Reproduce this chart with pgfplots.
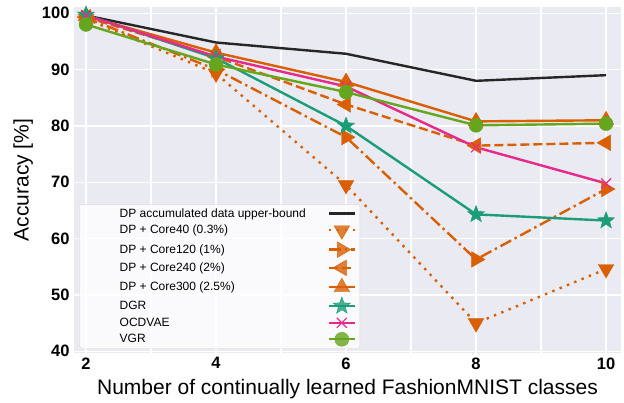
\documentclass[border=0pt]{standalone}
\usepackage{pgfplots}
\pgfplotsset{compat=1.18}
\usepackage{fontspec}
\setmainfont{Liberation Sans}
\definecolor{bgc}{HTML}{EAEAF2}
\definecolor{dteal}{HTML}{1B9E77}
\definecolor{dorange}{HTML}{D95F02}
\definecolor{dpink}{HTML}{E7298A}
\definecolor{dgreen}{HTML}{66A61E}
\definecolor{dblack}{HTML}{262626}
\pgfdeclareplotmark{fstar}{%
  \pgfpathmoveto{\pgfqpointpolar{90}{\pgfplotmarksize}}%
  \pgfpathlineto{\pgfqpointpolar{126}{0.42\pgfplotmarksize}}%
  \pgfpathlineto{\pgfqpointpolar{162}{\pgfplotmarksize}}%
  \pgfpathlineto{\pgfqpointpolar{198}{0.42\pgfplotmarksize}}%
  \pgfpathlineto{\pgfqpointpolar{234}{\pgfplotmarksize}}%
  \pgfpathlineto{\pgfqpointpolar{270}{0.42\pgfplotmarksize}}%
  \pgfpathlineto{\pgfqpointpolar{306}{\pgfplotmarksize}}%
  \pgfpathlineto{\pgfqpointpolar{342}{0.42\pgfplotmarksize}}%
  \pgfpathlineto{\pgfqpointpolar{18}{\pgfplotmarksize}}%
  \pgfpathlineto{\pgfqpointpolar{54}{0.42\pgfplotmarksize}}%
  \pgfpathclose
  \pgfusepathqfillstroke}
\begin{document}
\begin{tikzpicture}
\begin{axis}[
  name=ax,
  scale only axis,
  width=547pt, height=346pt,
  xmin=1.815, xmax=10.23,
  ymin=39.7, ymax=101.1,
  axis background/.style={fill=bgc},
  axis line style={draw=none},
  xtick={2,4,6,8,10},
  minor xtick={3,5,7,9},
  ytick={40,50,...,100},
  grid=both,
  major grid style={white, line width=1.2pt},
  minor grid style={white, line width=1.2pt},
  tick style={draw=none},
  /pgf/number format/assume math mode=true,
  ticklabel style={font=\bfseries\fontsize{16.5}{18}\selectfont},
  xticklabel style={yshift=-1pt},
  yticklabel style={xshift=-1pt},
  xlabel={Number of continually learned FashionMNIST classes},
  ylabel={Accuracy [\%]},
  label style={font=\fontsize{21}{22}\selectfont},
  xlabel style={yshift=-3pt},
  ylabel style={yshift=2pt},
  legend plot pos=right,
  legend cell align=left,
  legend image code/.code={\draw[mark repeat=2,mark phase=2] plot coordinates {(0cm,0cm) (0.45cm,0cm) (0.9cm,0cm)};},
  legend style={at={(axis cs:1.9,40.5)}, anchor=south west,
    fill=white, fill opacity=0.8, text opacity=1, draw=black!15,
    rounded corners=2pt,
    font=\fontsize{12}{14}\selectfont,
    row sep=2.6pt, inner xsep=4pt, inner ysep=2pt,
    /tikz/every odd column/.append style={column sep=20pt}},
  every axis plot/.append style={line width=2.4pt},
]
\addplot[dblack, mark=none] coordinates {(2,99.6) (4,94.8) (6,92.8) (8,88.0) (10,89.0)};
\addlegendentry{\hspace*{34pt}DP accumulated data upper-bound}
\addplot[dorange, dotted, dash pattern=on 2.4pt off 5.5pt, mark=triangle*, mark size=9pt, mark options={solid, rotate=180, fill=dorange, draw=dorange, line width=0.4pt}] coordinates {(2,99.0) (4,89.3) (6,69.5) (8,45.0) (10,54.6)};
\addlegendentry{\hspace*{34pt}DP + Core40 (0.3\%)}
\addplot[dorange, dash pattern=on 12pt off 4pt on 2.4pt off 4pt, mark=triangle*, mark size=9pt, mark options={solid, rotate=-90, fill=dorange, draw=dorange, line width=0.4pt}] coordinates {(2,99.2) (4,90.0) (6,78.0) (8,56.3) (10,68.8)};
\addlegendentry{\hspace*{34pt}DP + Core120 (1\%)}
\addplot[dorange, dash pattern=on 9pt off 4pt, mark=triangle*, mark size=9pt, mark options={solid, rotate=90, fill=dorange, draw=dorange, line width=0.4pt}] coordinates {(2,99.3) (4,92.3) (6,83.8) (8,76.5) (10,77.0)};
\addlegendentry{\hspace*{34pt}DP + Core240 (2\%)}
\addplot[dorange, mark=triangle*, mark size=9pt, mark options={solid, fill=dorange, draw=dorange, line width=0.4pt}] coordinates {(2,99.5) (4,93.0) (6,87.8) (8,80.8) (10,81.0)};
\addlegendentry{\hspace*{34pt}DP + Core300 (2.5\%)}
\addplot[dteal, mark=fstar, mark size=9pt, mark options={solid, fill=dteal, draw=dteal, line width=0.4pt}] coordinates {(2,99.7) (4,92.0) (6,80.0) (8,64.3) (10,63.2)};
\addlegendentry{\hspace*{34pt}DGR}
\addplot[dpink, mark=x, mark size=7pt, mark options={solid, line width=1.2pt}] coordinates {(2,99.6) (4,92.3) (6,87.0) (8,76.2) (10,69.8)};
\addlegendentry{\hspace*{34pt}OCDVAE}
\addplot[dgreen, mark=*, mark size=7pt, mark options={solid, draw=dgreen, fill=dgreen, line width=0.4pt}] coordinates {(2,98.0) (4,90.9) (6,86.0) (8,80.1) (10,80.4)};
\addlegendentry{\hspace*{34pt}VGR}
\end{axis}
\path (ax.south west) ++(-74pt,-49pt) (ax.north east) ++(3pt,7pt);
\end{tikzpicture}
\end{document}
